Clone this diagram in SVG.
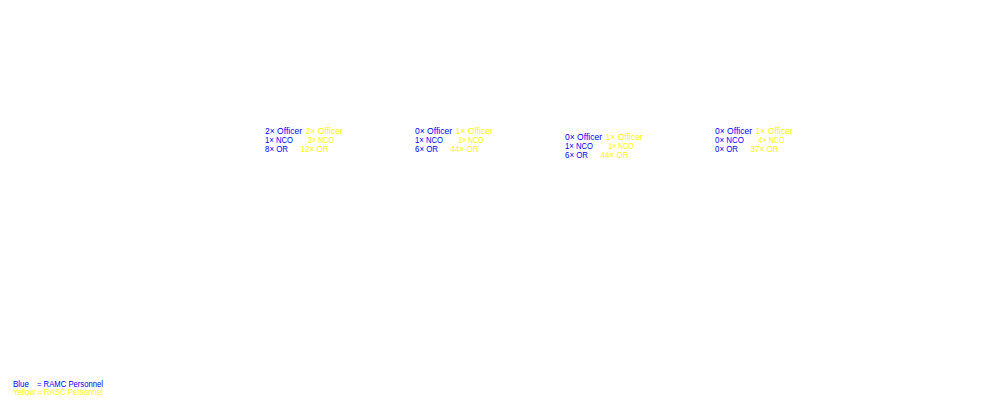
<svg xmlns="http://www.w3.org/2000/svg" width="1000" height="400" viewBox="0 0 1000 400">
<style>
text{font-family:"Liberation Sans",Arial,sans-serif;font-size:9px}
.b{fill:#0000ff}
.y{fill:#ffff00}
</style>
<rect width="1000" height="400" fill="#ffffff"/>
<g id="unit1">
<text class="b" x="265" y="134" textLength="37" lengthAdjust="spacingAndGlyphs">2× Officer</text><text class="y" x="305.5" y="134" textLength="37.5" lengthAdjust="spacingAndGlyphs">2× Officer</text>
<text class="b" x="265" y="143" textLength="28" lengthAdjust="spacingAndGlyphs">1× NCO</text><text class="y" x="308" y="143" textLength="26" lengthAdjust="spacingAndGlyphs">3× NCO</text>
<text class="b" x="265" y="152" textLength="23" lengthAdjust="spacingAndGlyphs">8× OR</text><text class="y" x="300.5" y="152" textLength="28" lengthAdjust="spacingAndGlyphs">12× OR</text>
</g>
<g id="unit2">
<text class="b" x="415" y="134" textLength="37" lengthAdjust="spacingAndGlyphs">0× Officer</text><text class="y" x="455.5" y="134" textLength="37.5" lengthAdjust="spacingAndGlyphs">1× Officer</text>
<text class="b" x="415" y="143" textLength="28" lengthAdjust="spacingAndGlyphs">1× NCO</text><text class="y" x="458.5" y="143" textLength="25" lengthAdjust="spacingAndGlyphs">1× NCO</text>
<text class="b" x="415" y="152" textLength="23" lengthAdjust="spacingAndGlyphs">6× OR</text><text class="y" x="450.5" y="152" textLength="28" lengthAdjust="spacingAndGlyphs">44× OR</text>
</g>
<g id="unit3">
<text class="b" x="565" y="140" textLength="37" lengthAdjust="spacingAndGlyphs">0× Officer</text><text class="y" x="605.5" y="140" textLength="37.5" lengthAdjust="spacingAndGlyphs">1× Officer</text>
<text class="b" x="565" y="149" textLength="28" lengthAdjust="spacingAndGlyphs">1× NCO</text><text class="y" x="608.5" y="149" textLength="25" lengthAdjust="spacingAndGlyphs">1× NCO</text>
<text class="b" x="565" y="158" textLength="23" lengthAdjust="spacingAndGlyphs">6× OR</text><text class="y" x="600.5" y="158" textLength="28" lengthAdjust="spacingAndGlyphs">44× OR</text>
</g>
<g id="unit4">
<text class="b" x="715" y="134" textLength="37" lengthAdjust="spacingAndGlyphs">0× Officer</text><text class="y" x="755.5" y="134" textLength="37.5" lengthAdjust="spacingAndGlyphs">1× Officer</text>
<text class="b" x="715" y="143" textLength="29" lengthAdjust="spacingAndGlyphs">0× NCO</text><text class="y" x="758.5" y="143" textLength="26" lengthAdjust="spacingAndGlyphs">4× NCO</text>
<text class="b" x="715" y="152" textLength="23" lengthAdjust="spacingAndGlyphs">0× OR</text><text class="y" x="750.5" y="152" textLength="28" lengthAdjust="spacingAndGlyphs">37× OR</text>
</g>
<g id="legend">
<text class="b" x="13" y="386.5" textLength="16" lengthAdjust="spacingAndGlyphs">Blue</text><text class="b" x="37" y="386.5" textLength="66" lengthAdjust="spacingAndGlyphs">= RAMC Personnel</text>
<text class="y" x="13" y="395" textLength="90" lengthAdjust="spacingAndGlyphs">Yellow = RASC Personnel</text>
</g>
</svg>
